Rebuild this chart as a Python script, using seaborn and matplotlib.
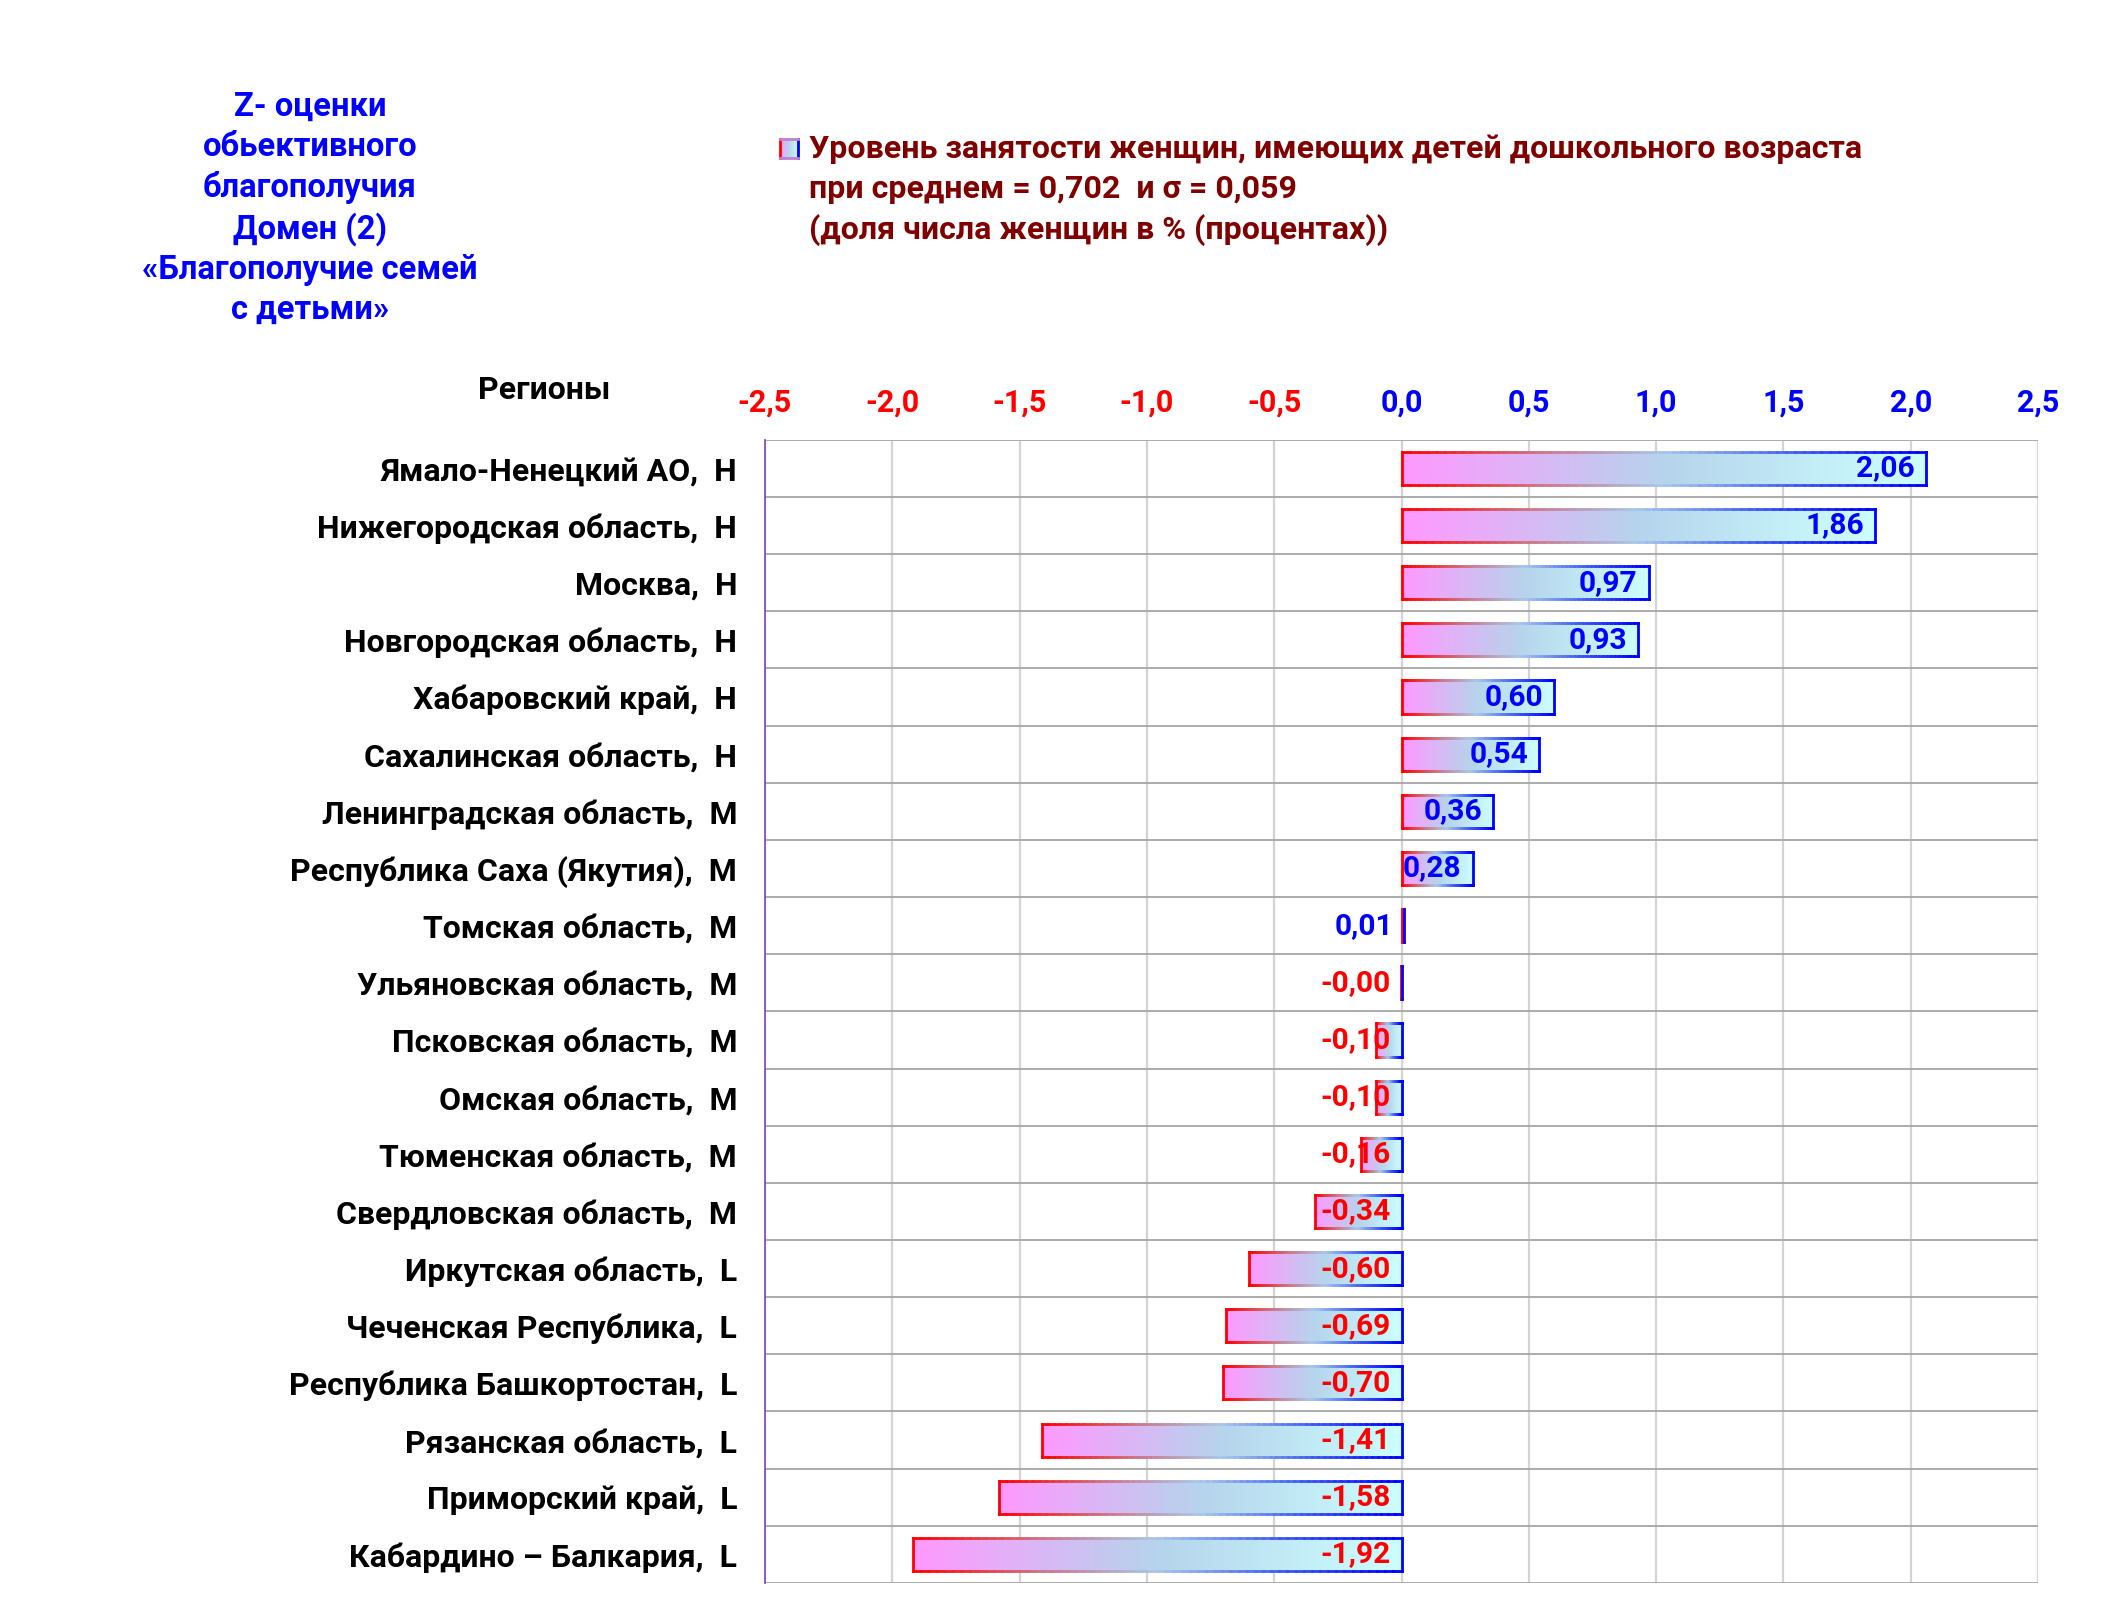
import numpy as np
import matplotlib
matplotlib.use("Agg")
import matplotlib.pyplot as plt
from matplotlib.colors import LinearSegmentedColormap
from matplotlib.collections import LineCollection
import seaborn as sns

# data
regions = ["Ямало-Ненецкий АО,  Н", "Нижегородская область,  Н", "Москва,  Н",
           "Новгородская область,  Н", "Хабаровский край,  Н", "Сахалинская область,  Н",
           "Ленинградская область,  М", "Республика Саха (Якутия),  М", "Томская область,  М",
           "Ульяновская область,  М", "Псковская область,  М", "Омская область,  М",
           "Тюменская область,  М", "Свердловская область,  М", "Иркутская область,  L",
           "Чеченская Республика,  L", "Республика Башкортостан,  L", "Рязанская область,  L",
           "Приморский край,  L", "Кабардино – Балкария,  L"]
values = [2.06, 1.86, 0.97, 0.93, 0.60, 0.54, 0.36, 0.28, 0.01, -0.004,
          -0.10, -0.10, -0.16, -0.34, -0.60, -0.69, -0.70, -1.41, -1.58, -1.92]
xticks = [-2.5, -2.0, -1.5, -1.0, -0.5, 0.0, 0.5, 1.0, 1.5, 2.0, 2.5]

title_lines = "Z- оценки\nобьективного\nблагополучия\nДомен (2)\n«Благополучие семей\nс детьми»"
legend_text = ("Уровень занятости женщин, имеющих детей дошкольного возраста\n"
               "при среднем = 0,702  и σ = 0,059\n"
               "(доля числа женщин в % (процентах))")

sns.set_style("white")
plt.rcParams['font.family'] = ['Roboto', 'DejaVu Sans']
W = "bold"

fill_cmap = LinearSegmentedColormap.from_list("fill", ["#FF99FF", "#B6D4EC", "#CCFFFF"])
edge_cmap = LinearSegmentedColormap.from_list("edge", ["#FF0000", "#D07080", "#A8C8EC", "#4060F0", "#0000FF"])

fig = plt.figure(figsize=(21.09, 16.03), dpi=100)
ax = fig.add_axes([0.3627, 0.0125, 0.6037, 0.7131])

sns.barplot(x=values, y=regions, orient="h", width=0.58, color="white",
            edgecolor="none", ax=ax, zorder=3)

grad = np.linspace(0, 1, 256).reshape(1, -1)
for p in list(ax.patches):
    bb = p.get_bbox()
    x0, x1 = min(bb.x0, bb.x1), max(bb.x0, bb.x1)
    y0, y1 = min(bb.y0, bb.y1), max(bb.y0, bb.y1)
    p.set_facecolor("none")
    im = ax.imshow(grad, extent=[x0, x1, y1, y0], aspect="auto", cmap=fill_cmap,
                   interpolation="bilinear", zorder=3)
    im.set_clip_path(p)
    # gradient outline
    n = 60
    xs = np.linspace(x0, x1, n + 1)
    segs, cols = [], []
    for yy in (y0, y1):
        for i in range(n):
            segs.append([(xs[i], yy), (xs[i + 1], yy)])
            cols.append(edge_cmap(i / (n - 1)))
    segs.append([(x0, y0), (x0, y1)])
    cols.append(edge_cmap(0.0))
    segs.append([(x1, y0), (x1, y1)])
    cols.append(edge_cmap(1.0))
    ax.add_collection(LineCollection(segs, colors=cols, linewidths=2.0,
                                     capstyle="projecting", zorder=4))

# value labels
for i, v in enumerate(values):
    txt = f"{v:.2f}".replace(".", ",")
    col = "#0000FF" if v > 0 else "#FF0000"
    ax.annotate(txt, xy=(max(v, 0), i), xytext=(-8, 0), textcoords="offset points",
                ha="right", va="center", fontsize=21.5, fontweight=W,
                color=col, zorder=5)

ax.set_xlim(-2.5, 2.5)
ax.set_ylim(len(regions) - 0.5, -0.5)
ax.set_xticks(xticks)
ax.set_xticklabels([f"{t:.1f}".replace(".", ",") for t in xticks])
ax.xaxis.tick_top()
ax.tick_params(axis="x", length=0, pad=16, labelsize=22)
ax.tick_params(axis="y", length=0, pad=20, labelsize=23, labelcolor="black")
for tk, t in zip(ax.xaxis.get_major_ticks(), xticks):
    tk.label2.set_color("#FF0000" if t < 0 else "#0000FF")
    tk.label2.set_fontweight(W)
for lab in ax.get_yticklabels():
    lab.set_fontweight(W)
    lab.set_color("black")
ax.set_xlabel("")
ax.set_ylabel("")

for t in xticks:
    ax.axvline(t, color="#D4D4D4", lw=1.6, zorder=1)
for k in range(len(regions) + 1):
    ax.axhline(k - 0.5, color="#A6A6A6", lw=1.3, zorder=1)

for s in ["top", "right", "bottom"]:
    ax.spines[s].set_visible(False)
ax.spines["left"].set_color("#8050C0")
ax.spines["left"].set_linewidth(1.3)

fig.text(0.147, 0.870, title_lines, ha="center", va="center", color="#0000FF",
         fontsize=23.6, fontweight=W, linespacing=1.32)
fig.text(0.3835, 0.8815, legend_text, ha="left", va="center", color="#800000",
         fontsize=23.1, fontweight=W, linespacing=1.42)
# legend marker
lax = fig.add_axes([0.3699, 0.9015, 0.0085, 0.0115])
lax.imshow(grad, extent=[0, 1, 0, 1], aspect="auto", cmap=fill_cmap)
lax.set_xticks([])
lax.set_yticks([])
for s in ["top", "bottom"]:
    lax.spines[s].set_color("#C080D0")
lax.spines["left"].set_color("#FF0000")
lax.spines["right"].set_color("#0000FF")
for s in lax.spines.values():
    s.set_linewidth(2)

fig.text(0.258, 0.757, "Регионы", ha="center", va="center", color="black",
         fontsize=23, fontweight=W)

fig.savefig("out.png", dpi=100)
